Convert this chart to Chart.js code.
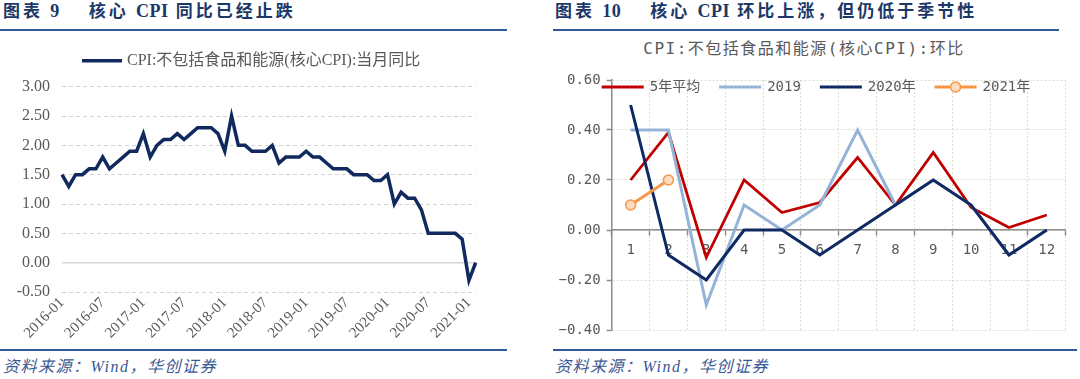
<!DOCTYPE html>
<html><head><meta charset="utf-8">
<script src="https://cdn.jsdelivr.net/npm/chart.js@4.4.1/dist/chart.umd.min.js"></script>
<style>
html,body{margin:0;padding:0;background:#fff;width:1080px;height:379px;overflow:hidden;position:relative}
.hdr{position:absolute;top:0px;font:bold 17px "Liberation Serif","Noto Sans CJK SC",serif;color:#1b3868;white-space:pre;line-height:22px;letter-spacing:3px}
.hdr .lt{letter-spacing:0.5px;font-size:18px}
.rule{position:absolute;height:2px;background:#2f5b9b}
.src{position:absolute;top:356px;font:italic 16px "Liberation Serif","Noto Sans CJK SC",serif;color:#3a5894;white-space:pre;line-height:22px;letter-spacing:1.5px}
.cw{position:absolute;top:35px;width:540px;height:310px}
.ttl{position:absolute;top:38px;left:540px;width:528px;text-align:center;font:16px "DejaVu Sans Mono","Noto Sans CJK SC",sans-serif;color:#595959;letter-spacing:1.5px;line-height:22px}
</style></head>
<body>
<div class="hdr" style="left:3px">图表 <span class="lt">9</span>    核心 <span class="lt">CPI</span> 同比已经止跌</div>
<div class="rule" style="left:0;top:29px;width:507px"></div>
<div class="cw" style="left:0"><canvas id="c1" width="540" height="310"></canvas></div>
<div class="rule" style="left:0;top:349px;width:507px"></div>
<div class="src" style="left:3px">资料来源：Wind，华创证券</div>

<div class="hdr" style="left:555px">图表 <span class="lt">10</span>    核心 <span class="lt">CPI</span> 环比上涨，但仍低于季节性</div>
<div class="rule" style="left:553px;top:29px;width:506px"></div>
<div class="ttl">CPI:不包括食品和能源(核心CPI):环比</div>
<div class="cw" style="left:540px"><canvas id="c2" width="540" height="310"></canvas></div>
<div class="rule" style="left:553px;top:349px;width:524px"></div>
<div class="src" style="left:555px">资料来源：Wind，华创证券</div>

<script>
// ---------- Chart 1 data ----------
const months = [
 '2016-01','2016-02','2016-03','2016-04','2016-05','2016-06','2016-07','2016-08','2016-09','2016-10','2016-11','2016-12',
 '2017-01','2017-02','2017-03','2017-04','2017-05','2017-06','2017-07','2017-08','2017-09','2017-10','2017-11','2017-12',
 '2018-01','2018-02','2018-03','2018-04','2018-05','2018-06','2018-07','2018-08','2018-09','2018-10','2018-11','2018-12',
 '2019-01','2019-02','2019-03','2019-04','2019-05','2019-06','2019-07','2019-08','2019-09','2019-10','2019-11','2019-12',
 '2020-01','2020-02','2020-03','2020-04','2020-05','2020-06','2020-07','2020-08','2020-09','2020-10','2020-11','2020-12',
 '2021-01','2021-02'];
const coreYoY = [
 1.5,1.3,1.5,1.5,1.6,1.6,1.8,1.6,1.7,1.8,1.9,1.9,
 2.2,1.8,2.0,2.1,2.1,2.2,2.1,2.2,2.3,2.3,2.3,2.2,
 1.9,2.5,2.0,2.0,1.9,1.9,1.9,2.0,1.7,1.8,1.8,1.8,
 1.9,1.8,1.8,1.7,1.6,1.6,1.6,1.5,1.5,1.5,1.4,1.4,
 1.5,1.0,1.2,1.1,1.1,0.9,0.5,0.5,0.5,0.5,0.5,0.4,
 -0.3,0.0];
const shownMonthTicks = ['2016-01','2016-07','2017-01','2017-07','2018-01','2018-07','2019-01','2019-07','2020-01','2020-07','2021-01'];
const yoyLabel = 'CPI:不包括食品和能源(核心CPI):当月同比';

// ---------- Chart 2 data ----------
const monthNums = ['1','2','3','4','5','6','7','8','9','10','11','12'];
const avg5 = [0.20,0.39,-0.11,0.20,0.07,0.11,0.29,0.10,0.31,0.09,0.01,0.06];
const y2019 = [0.4,0.4,-0.3,0.1,0.0,0.1,0.4,0.1,0.2,0.1,-0.1,0.0];
const y2020 = [0.5,-0.1,-0.2,0.0,0.0,-0.1,0.0,0.1,0.2,0.1,-0.1,0.0];
const y2021 = [0.1,0.2,null,null,null,null,null,null,null,null,null,null];
const seriesNames = ['5年平均','2019','2020年','2021年'];

const legendPlugin = {
  id:'customLegend',
  afterDraw(chart, args, o){
    const ctx = chart.ctx;
    ctx.save();
    let x = o.x; const y = o.y;
    ctx.font = o.font; ctx.textBaseline = 'middle'; ctx.textAlign = 'left';
    chart.data.datasets.forEach(ds => {
      ctx.setLineDash([]);
      ctx.strokeStyle = ds.borderColor; ctx.lineWidth = ds.borderWidth;
      ctx.beginPath(); ctx.moveTo(x, y); ctx.lineTo(x + o.lineLen, y); ctx.stroke();
      if (ds.pointRadius > 0) {
        ctx.beginPath(); ctx.arc(x + o.lineLen/2, y, ds.pointRadius, 0, Math.PI*2);
        ctx.fillStyle = ds.pointBackgroundColor; ctx.fill();
        ctx.lineWidth = ds.pointBorderWidth; ctx.strokeStyle = ds.pointBorderColor; ctx.stroke();
      }
      x += o.lineLen + o.gap;
      ctx.fillStyle = o.color;
      ctx.fillText(ds.label, x, y);
      x += ctx.measureText(ds.label).width + o.itemGap;
    });
    ctx.restore();
  }
};

const zeroLine = {
  id:'zeroLine',
  beforeDatasetsDraw(chart){
    const ctx = chart.ctx, a = chart.chartArea;
    const y = chart.scales.y.getPixelForValue(0);
    ctx.save(); ctx.strokeStyle = '#d6d6d6'; ctx.lineWidth = 1.5; ctx.setLineDash([]);
    ctx.beginPath(); ctx.moveTo(a.left, y); ctx.lineTo(a.right, y); ctx.stroke(); ctx.restore();
  }
};

const serif = '"Liberation Serif", "Noto Sans CJK SC", serif';

new Chart(document.getElementById('c1'), {
  type:'line',
  data:{ labels: months, datasets:[{ label: yoyLabel, data: coreYoY, borderColor:'#102a5e', borderWidth:3.5, pointRadius:0, tension:0, fill:false }]},
  plugins:[legendPlugin, zeroLine],
  options:{
    responsive:false, animation:false, devicePixelRatio:1,
    layout:{ padding:{ left:0, right:64.3, top:51.7, bottom:0 } },
    plugins:{ legend:{display:false}, tooltip:{enabled:false},
      customLegend:{ x:82, y:25.7, lineLen:40, gap:5, itemGap:20, font:'16px '+serif, color:'#595959' } },
    scales:{
      x:{ type:'category', offset:false,
        grid:{display:false}, border:{display:false},
        ticks:{ autoSkip:false, minRotation:45, maxRotation:45, padding:-6, color:'#595959', font:{family:serif, size:15},
          callback(v, i){ const l = this.getLabelForValue(v); return shownMonthTicks.includes(l) ? l : null; } },
        afterFit(s){ s.height = 53; } },
      y:{ min:-0.5, max:3, 
        grid:{ color:'#d3d3d3', lineWidth:1, drawTicks:false },
        border:{ display:false, dash:[4,3] },
        ticks:{ stepSize:0.5, padding:12, color:'#595959', font:{family:serif, size:16}, callback:v => v.toFixed(2) },
        afterFit(s){ s.width = 62; } }
    }
  }
});

const mono = '"DejaVu Sans Mono", "Noto Sans CJK SC", sans-serif';
const fmt2 = v => { const s = (Math.round(v*100)/100).toFixed(2); return s.replace('-', '−'); };

new Chart(document.getElementById('c2'), {
  type:'line',
  data:{ labels: monthNums, datasets:[
    { label: seriesNames[0], data: avg5, borderColor:'#c00000', borderWidth:2.8, pointRadius:0, tension:0, order:3 },
    { label: seriesNames[1], data: y2019, borderColor:'#95b3d7', borderWidth:3, pointRadius:0, tension:0, order:2 },
    { label: seriesNames[2], data: y2020, borderColor:'#0f2a62', borderWidth:3, pointRadius:0, tension:0, order:1 },
    { label: seriesNames[3], data: y2021, borderColor:'#f79646', borderWidth:3, pointRadius:5, pointBorderWidth:1.5,
      pointBackgroundColor:'#fddcc2', pointBorderColor:'#f79646', tension:0, order:0, spanGaps:false }
  ]},
  plugins:[legendPlugin],
  options:{
    responsive:false, animation:false, devicePixelRatio:1,
    layout:{ padding:{ left:0, right:14.3, top:45, bottom:15 } },
    plugins:{ legend:{display:false}, tooltip:{enabled:false},
      customLegend:{ x:61.7, y:52, lineLen:42, gap:6, itemGap:19, font:'14px '+mono, color:'#595959' } },
    scales:{
      x:{ type:'category', offset:true, position:{ y:0 },
        grid:{ offset:true, color:'#dcdccf', lineWidth:1, drawTicks:true, tickLength:5, tickColor:'#8c8c8c', tickWidth:1.5, tickBorderDash:[] },
        border:{ display:true, color:'#8c8c8c', width:1.5, dash:[2,2] },
        ticks:{ padding:7, color:'#595959', font:{family:mono, size:14}, autoSkip:false, maxRotation:0 } },
      y:{ min:-0.4, max:0.6,
        grid:{ color:'#dcdccf', lineWidth:1, drawTicks:true, tickLength:5, tickColor:'#8c8c8c', tickWidth:1.5, tickBorderDash:[] },
        border:{ display:true, color:'#8c8c8c', width:1.5, dash:[2,2] },
        ticks:{ stepSize:0.2, padding:6, color:'#595959', font:{family:mono, size:14}, callback: v => fmt2(v) },
        afterFit(s){ s.width = 71.7; } }
    }
  }
});
</script>
</body></html>
